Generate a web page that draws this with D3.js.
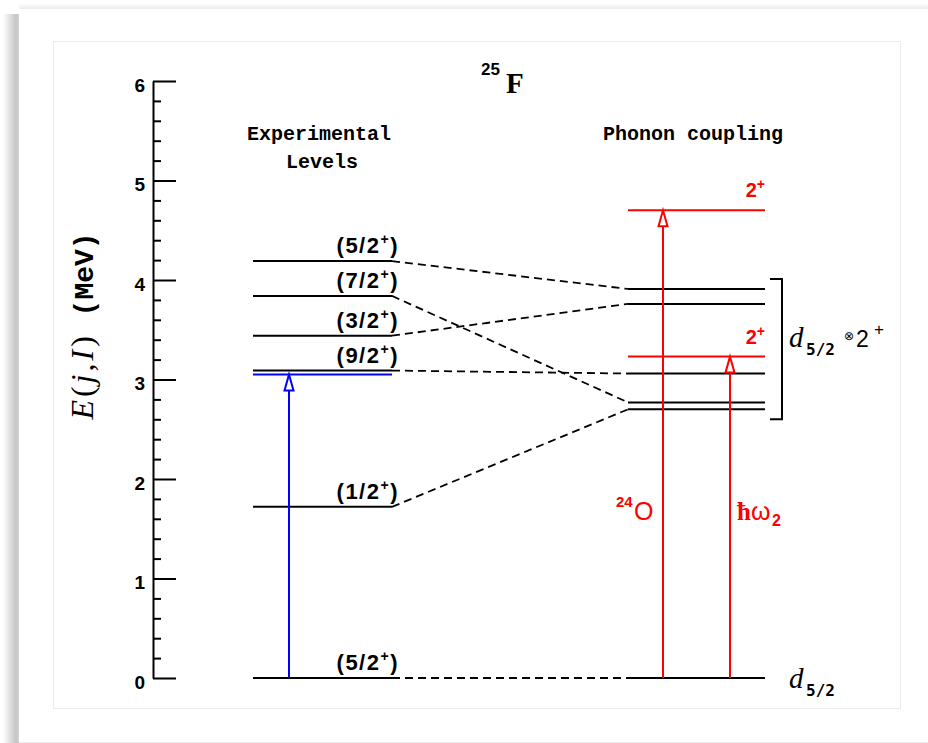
<!DOCTYPE html>
<html>
<head>
<meta charset="utf-8">
<script src="https://cdn.jsdelivr.net/npm/d3@7"></script>
<style>
  body { margin: 0; background: #fff; }
  svg { display: block; }
</style>
</head>
<body>
<svg width="928" height="743"></svg>
<script>
// energies in MeV
var expEnergies = [0, 1.72, 3.09, 3.44, 3.84, 4.19];
var expSpins = ["5/2", "1/2", "9/2", "3/2", "7/2", "5/2"];
var couplingEnergies = [0, 2.70, 2.77, 3.06, 3.76, 3.91];
var linkTargets = [0, 2.70, 3.06, 3.76, 2.77, 3.91];   // coupling level each exp level is joined to
var phononEnergies = [3.23, 4.70];                     // 2+ of 24O (red)
var phononArrowX = [730, 663];
var blueEnergy = 3.05;
var majorTicks = [0, 1, 2, 3, 4, 5, 6];
var multipletRange = [2.60, 4.01];

var svg = d3.select('svg');
var width = +svg.attr('width');
var height = +svg.attr('height');

var y = d3.scaleLinear().domain([0, 6]).range([678, 81]);

// column layout
var expX = [253, 392];
var cplX = [628, 765];
var blueX = 289;

// ---- page frame ----
var defs = svg.append('defs');
var lg = defs.append('linearGradient').attr('id', 'shadowL').attr('x1', 0).attr('x2', 1).attr('y1', 0).attr('y2', 0);
lg.append('stop').attr('offset', '0%').attr('stop-color', '#fff');
lg.append('stop').attr('offset', '80%').attr('stop-color', '#c6c6c6');
lg.append('stop').attr('offset', '100%').attr('stop-color', '#d2d2d2');
var tg = defs.append('linearGradient').attr('id', 'shadowT').attr('x1', 0).attr('x2', 0).attr('y1', 0).attr('y2', 1);
tg.append('stop').attr('offset', '0%').attr('stop-color', '#fff');
tg.append('stop').attr('offset', '100%').attr('stop-color', '#ececec');

svg.append('rect').attr('width', width).attr('height', height).attr('fill', '#fff');
svg.append('rect').attr('x', 3).attr('y', 14).attr('width', 16).attr('height', height - 14).attr('fill', 'url(#shadowL)');
svg.append('rect').attr('x', 19).attr('y', 3).attr('width', width - 19).attr('height', 6).attr('fill', 'url(#shadowT)');
svg.append('line').attr('x1', 19).attr('x2', width).attr('y1', 742.5).attr('y2', 742.5).attr('stroke', '#eee');
svg.append('rect').attr('x', 53.5).attr('y', 41.5).attr('width', 847).attr('height', 667)
  .attr('fill', 'none').attr('stroke', '#ebebeb');

// ---- axis ----
var axisG = svg.append('g').attr('transform', 'translate(153,0)');
axisG.call(d3.axisLeft(y).tickValues(majorTicks).tickFormat(d3.format('d'))
  .tickSizeInner(-23).tickSizeOuter(0).tickPadding(8));
axisG.call(function(g) {
  g.select('.domain').attr('stroke-width', 2);
  g.selectAll('.tick line').attr('stroke-width', 2);
  g.selectAll('.tick text').attr('dy', '0.55em')
    .style('font-family', 'Liberation Sans, Arial, sans-serif').style('font-weight', 'bold').style('font-size', '19px');
});
var minorG = svg.append('g').attr('transform', 'translate(153,0)');
minorG.call(d3.axisLeft(y).tickValues(d3.range(0, 6, 0.2).filter(function(d) { return Math.abs(d - Math.round(d)) > 0.01; }))
  .tickSizeInner(-8).tickSizeOuter(0).tickFormat(''));
minorG.select('.domain').remove();
minorG.selectAll('.tick line').attr('stroke-width', 2);

// axis title
var yt = svg.append('text').attr('transform', 'translate(93,326) rotate(-90)')
  .attr('text-anchor', 'middle').style('font-size', '32px');
yt.append('tspan').style('font-family', 'Liberation Serif, serif').style('font-style', 'italic').style('letter-spacing', '3px').text('E');
yt.append('tspan').style('font-family', 'Liberation Serif, serif').style('letter-spacing', '3px').text('(');
yt.append('tspan').style('font-family', 'Liberation Serif, serif').style('font-style', 'italic').style('letter-spacing', '3px').text('j');
yt.append('tspan').style('font-family', 'Liberation Serif, serif').style('letter-spacing', '3px').text(',');
yt.append('tspan').style('font-family', 'Liberation Serif, serif').style('font-style', 'italic').style('letter-spacing', '3px').text('I');
yt.append('tspan').style('font-family', 'Liberation Serif, serif').style('letter-spacing', '3px').text(')');
yt.append('tspan').style('font-family', 'Liberation Mono, monospace').style('font-weight', 'bold').style('font-size', '28px').text('\u00a0(MeV)');

// ---- titles ----
var mono = 'Liberation Mono, Courier New, monospace';
var sans = 'Liberation Sans, Arial, sans-serif';
svg.append('text').attr('x', 319).attr('y', 140).attr('text-anchor', 'middle')
  .style('font-family', mono).style('font-weight', 'bold').style('font-size', '20px').text('Experimental');
svg.append('text').attr('x', 322).attr('y', 168).attr('text-anchor', 'middle')
  .style('font-family', mono).style('font-weight', 'bold').style('font-size', '20px').text('Levels');
svg.append('text').attr('x', 693).attr('y', 140).attr('text-anchor', 'middle')
  .style('font-family', mono).style('font-weight', 'bold').style('font-size', '20px').text('Phonon coupling');

var title = svg.append('text');
title.append('tspan').attr('x', 481).attr('y', 75).style('font-family', sans).style('font-weight', 'bold').style('font-size', '17px').text('25');
title.append('tspan').attr('x', 506).attr('y', 93).style('font-family', 'Liberation Serif, serif').style('font-weight', 'bold').style('font-size', '29px').text('F');

// ---- dashed correspondences ----
svg.append('g').selectAll('line')
  .data(expEnergies.map(function(e, i) { return [e, linkTargets[i]]; }))
  .enter().append('line')
  .attr('x1', expX[1]).attr('x2', cplX[0])
  .attr('y1', function(d) { return y(d[0]); })
  .attr('y2', function(d) { return y(d[1]); })
  .attr('stroke', '#000').attr('stroke-width', 1.8).attr('stroke-dasharray', '8,5');

// ---- experimental levels ----
svg.append('line').attr('x1', expX[0]).attr('x2', expX[1])
  .attr('y1', y(blueEnergy)).attr('y2', y(blueEnergy)).attr('stroke', '#0000ff').attr('stroke-width', 2);

svg.append('g').selectAll('line').data(expEnergies).enter().append('line')
  .attr('x1', expX[0]).attr('x2', expX[1])
  .attr('y1', function(d) { return y(d); }).attr('y2', function(d) { return y(d); })
  .attr('stroke', '#000').attr('stroke-width', 2);

var lab = svg.append('g').selectAll('text').data(expEnergies).enter().append('text')
  .attr('x', 399).attr('y', function(d) { return y(d) - 8; })
  .attr('text-anchor', 'end')
  .style('font-family', sans).style('font-weight', 'bold').style('font-size', '22px').style('letter-spacing', '1.5px');
lab.append('tspan').text(function(d, i) { return '(' + expSpins[i]; });
lab.append('tspan').attr('dy', -9).style('font-size', '14px').text('+');
lab.append('tspan').attr('dy', 9).text(')');

// ---- coupling levels ----
svg.append('g').selectAll('line').data(couplingEnergies).enter().append('line')
  .attr('x1', cplX[0]).attr('x2', cplX[1])
  .attr('y1', function(d) { return y(d); }).attr('y2', function(d) { return y(d); })
  .attr('stroke', '#000').attr('stroke-width', 2);

svg.append('g').selectAll('line').data(phononEnergies).enter().append('line')
  .attr('x1', cplX[0]).attr('x2', cplX[1])
  .attr('y1', function(d) { return y(d); }).attr('y2', function(d) { return y(d); })
  .attr('stroke', '#ff0000').attr('stroke-width', 2);

var red2 = svg.append('g').selectAll('text').data(phononEnergies).enter().append('text')
  .attr('x', 765).attr('y', function(d) { return y(d) - 13; })
  .attr('text-anchor', 'end').attr('fill', '#ff0000')
  .style('font-family', sans).style('font-weight', 'bold').style('font-size', '20px');
red2.append('tspan').text('2');
red2.append('tspan').attr('dy', -8).style('font-size', '14px').text('+');

// ---- arrows ----
function arrow(x, e, color) {
  var tip = y(e), base = tip + 16;
  svg.append('line').attr('x1', x).attr('x2', x).attr('y1', y(0)).attr('y2', base)
    .attr('stroke', color).attr('stroke-width', 2);
  svg.append('path').attr('d', 'M' + x + ',' + tip + 'L' + (x - 4.5) + ',' + base + 'L' + (x + 4.5) + ',' + base + 'Z')
    .attr('fill', '#fff').attr('stroke', color).attr('stroke-width', 2).attr('stroke-linejoin', 'miter');
}
arrow(blueX, blueEnergy, '#0000ff');
phononEnergies.forEach(function(e, i) { arrow(phononArrowX[i], e, '#ff0000'); });

// red labels along arrows
var o24 = svg.append('text').attr('fill', '#ff0000').style('font-family', sans);
o24.append('tspan').attr('x', 616).attr('y', 507).style('font-size', '15px').style('font-weight', 'bold').text('24');
o24.append('tspan').attr('x', 634).attr('y', 520).style('font-size', '25px').text('O');
var hw = svg.append('text').attr('fill', '#ff0000').style('font-family', sans);
hw.append('tspan').attr('x', 737).attr('y', 520).style('font-family', 'Liberation Serif, serif').style('font-weight', 'bold').style('font-size', '25px').text('\u0127');
hw.append('tspan').attr('x', 751).attr('y', 520).style('font-size', '25px').text('\u03c9');
hw.append('tspan').attr('x', 772).attr('y', 526).style('font-size', '16px').style('font-weight', 'bold').text('2');

// ---- multiplet bracket ----
svg.append('path')
  .attr('d', 'M770,' + y(multipletRange[1]) + 'H782V' + y(multipletRange[0]) + 'H770')
  .attr('fill', 'none').attr('stroke', '#000').attr('stroke-width', 2);

var dm = svg.append('text');
dm.append('tspan').attr('x', 789).attr('y', 347).style('font-family', 'Liberation Serif, serif').style('font-style', 'italic').style('font-size', '29px').text('d');
dm.append('tspan').attr('x', 806).attr('y', 355).style('font-family', 'DejaVu Sans Mono, monospace').style('font-weight', 'bold').style('font-size', '16px').text('5/2');
dm.append('tspan').attr('x', 844).attr('y', 340).style('font-family', 'DejaVu Sans, sans-serif').style('font-size', '12px').text('\u2297');
dm.append('tspan').attr('x', 856).attr('y', 347).style('font-family', sans).style('font-size', '23px').text('2');
dm.append('tspan').attr('x', 874).attr('y', 335).style('font-family', sans).style('font-size', '17px').text('+');

var dg = svg.append('text');
dg.append('tspan').attr('x', 789).attr('y', 688).style('font-family', 'Liberation Serif, serif').style('font-style', 'italic').style('font-size', '29px').text('d');
dg.append('tspan').attr('x', 806).attr('y', 696).style('font-family', 'DejaVu Sans Mono, monospace').style('font-weight', 'bold').style('font-size', '16px').text('5/2');
</script>
</body>
</html>
